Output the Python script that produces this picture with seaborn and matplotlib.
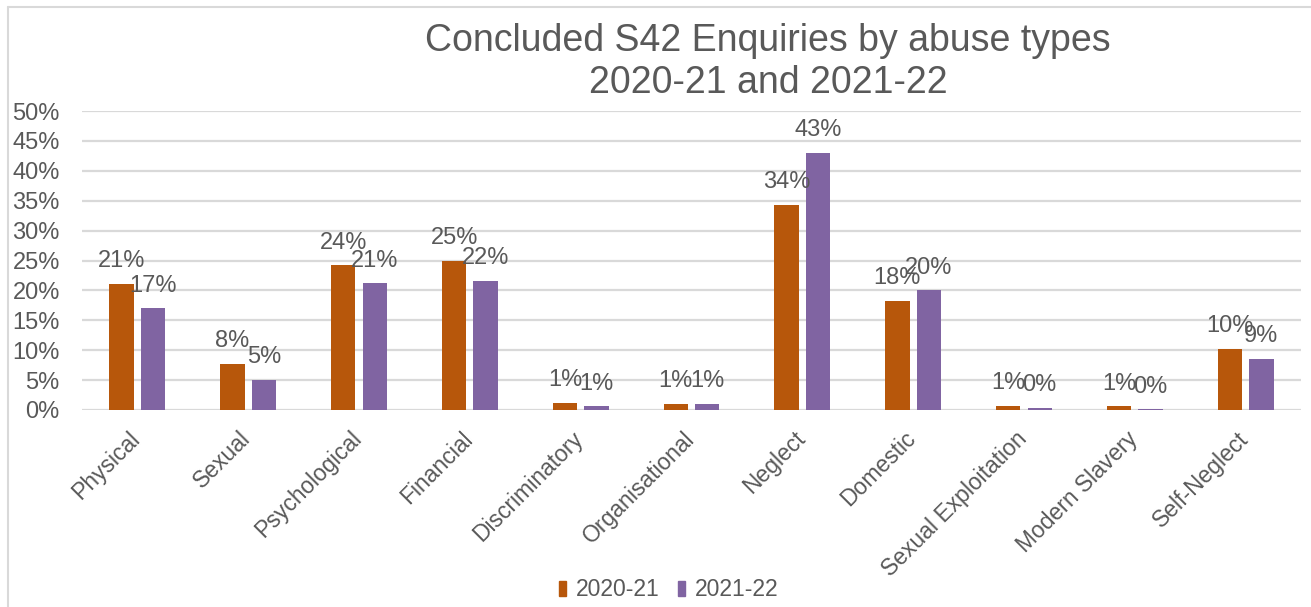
import matplotlib
matplotlib.use("Agg")
import matplotlib.pyplot as plt
from matplotlib.lines import Line2D
import matplotlib.transforms as mtransforms
import seaborn as sns
import pandas as pd

categories = ["Physical", "Sexual", "Psychological", "Financial", "Discriminatory",
              "Organisational", "Neglect", "Domestic", "Sexual Exploitation",
              "Modern Slavery", "Self-Neglect"]
years = ["2020-21", "2021-22"]
values_2020_21 = [21.1, 7.7, 24.2, 25.0, 1.2, 1.05, 34.3, 18.2, 0.67, 0.6, 10.2]
values_2021_22 = [17.0, 5.1, 21.2, 21.6, 0.6, 1.05, 43.0, 20.0, 0.4, 0.1, 8.6]
y_ticks = [0, 5, 10, 15, 20, 25, 30, 35, 40, 45, 50]

df = pd.DataFrame({
    "category": categories * 2,
    "year": [years[0]] * len(categories) + [years[1]] * len(categories),
    "value": values_2020_21 + values_2021_22,
})

TEXT = "#595959"
GRID = "#d9d9d9"
ORANGE = "#B7570B"
PURPLE = "#8064A2"

sns.set_theme(style="white")
plt.rcParams["font.family"] = ["Liberation Sans", "DejaVu Sans"]

W, H = 1311, 607
fig = plt.figure(figsize=(W / 100, H / 100), dpi=100)
ax = fig.add_axes([82 / W, 1 - 410 / H, (1301 - 82) / W, (410 - 111) / H])

sns.barplot(data=df, x="category", y="value", hue="year", order=categories,
            hue_order=years, palette=[ORANGE, PURPLE], width=0.57, gap=0.23,
            saturation=1, linewidth=0, legend=False, ax=ax, zorder=3)

ax.set_ylim(0, 50)
ax.set_xlim(-0.5, len(categories) - 0.5)
ax.set_yticks(y_ticks)
ax.set_yticklabels([f"{t}%" for t in y_ticks])
ax.yaxis.grid(True, color=GRID, linewidth=1.6, zorder=0)
ax.set_axisbelow(True)
for s in ax.spines.values():
    s.set_visible(False)
ax.set_xlabel("")
ax.set_ylabel("")
ax.tick_params(axis="y", length=0, pad=16, labelsize=17, labelcolor=TEXT)
ax.tick_params(axis="x", length=0, pad=8, labelsize=16.5, labelcolor=TEXT)
shift = mtransforms.ScaledTranslation(-9 / 100, -6 / 100, fig.dpi_scale_trans)
for lbl in ax.get_xticklabels():
    lbl.set_rotation(45)
    lbl.set_ha("right")
    lbl.set_va("top")
    lbl.set_rotation_mode("anchor")
    lbl.set_transform(lbl.get_transform() + shift)

# Value labels above each bar
for container in ax.containers:
    for bar in container:
        v = bar.get_height()
        ax.annotate(f"{v:.0f}%", (bar.get_x() + bar.get_width() / 2, v),
                    xytext=(0, 12), textcoords="offset points",
                    ha="center", va="baseline", fontsize=17, color=TEXT,
                    zorder=5)

fig.text(768 / W, 1 - 93 / H,
         "Concluded S42 Enquiries by abuse types\n2020-21 and 2021-22",
         ha="center", va="baseline", fontsize=27, color=TEXT, linespacing=1.2)

handles = [plt.Rectangle((0, 0), 1, 1, color=c) for c in (ORANGE, PURPLE)]
fig.legend(handles, years, loc="center", bbox_to_anchor=(669 / W, 1 - 590 / H),
           ncol=2, frameon=False, fontsize=16.5, labelcolor=TEXT,
           handlelength=0.28, handleheight=0.6, handletextpad=0.45,
           columnspacing=0.8)

# Chart border (top and left edges)
fig.add_artist(Line2D([8 / W, 1], [1 - 7 / H, 1 - 7 / H], transform=fig.transFigure,
                      color=GRID, linewidth=1.5))
fig.add_artist(Line2D([8 / W, 8 / W], [0, 1 - 7 / H], transform=fig.transFigure,
                      color=GRID, linewidth=1.5))

fig.savefig("out.png", dpi=100, facecolor="white")
